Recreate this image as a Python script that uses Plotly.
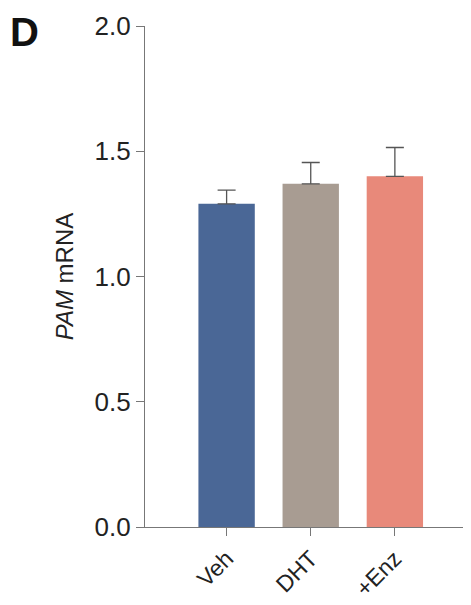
import plotly.graph_objects as go

categories = ["Veh", "DHT", "+Enz"]
values = [1.29, 1.37, 1.40]
errors = [0.055, 0.085, 0.115]
colors = ["#4a6796", "#a89c92", "#e8897a"]
positions = [0, 1, 2]

fig = go.Figure()
fig.add_trace(go.Bar(
    x=positions, y=values, width=0.67,
    marker=dict(color=colors, line=dict(width=0)),
    error_y=dict(type="data", symmetric=False, array=errors, arrayminus=[0, 0, 0],
                 color="#555555", thickness=1.3, width=9),
))
fig.update_layout(
    width=471, height=605, margin=dict(l=137, r=0, t=18, b=86),
    paper_bgcolor="white", plot_bgcolor="white", showlegend=False,
    font=dict(family="Liberation Sans, Arial, sans-serif", color="#222"),
    xaxis=dict(range=[-0.97, 3.0], tickvals=positions, ticktext=categories,
               tickangle=-45, ticks="outside", ticklen=8, tickcolor="#777",
               showline=True, linecolor="#777", linewidth=1.2, showgrid=False,
               zeroline=False, tickfont=dict(size=23)),
    yaxis=dict(range=[0, 2.0], tickvals=[0, 0.5, 1.0, 1.5, 2.0],
               ticktext=["0.0", "0.5", "1.0", "1.5", "2.0"],
               ticks="outside", ticklen=8, tickcolor="#777",
               showline=True, linecolor="#777", linewidth=1.2, showgrid=False,
               zeroline=False, tickfont=dict(size=26),
               title=dict(text="<i>PAM</i> mRNA", font=dict(size=24), standoff=14)),
)
fig.add_annotation(text="<b>D</b>", xref="paper", yref="paper", x=-137/334, y=1.0 + 18/501,
                   xanchor="left", yanchor="top", showarrow=False, font=dict(size=40, color="#111"))
fig.write_html("out.html")
